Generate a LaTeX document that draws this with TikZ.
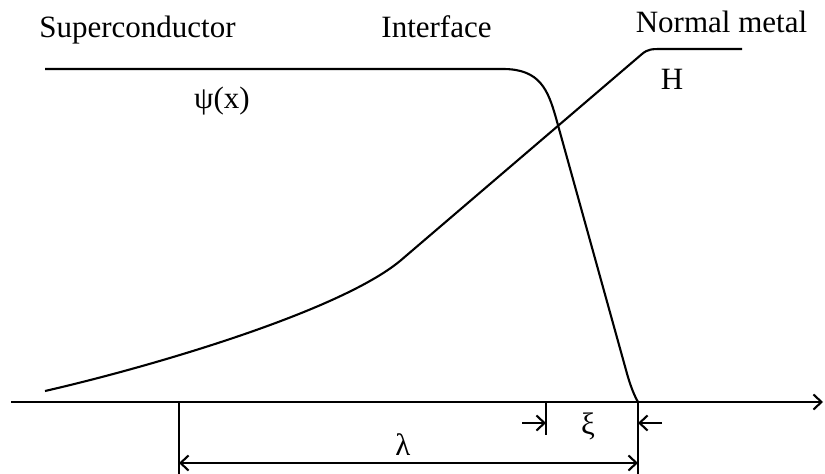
\documentclass[tikz,border=0pt]{standalone}
\usepackage{fontspec}
\setmainfont{Liberation Serif}
\usetikzlibrary{arrows.meta,positioning}

\begin{document}
\begin{tikzpicture}[x=1pt,y=-1pt,>={Straight Barb[length=8pt,width=15pt]},
    line width=2.1pt,
    caption/.style={font=\fontsize{31}{36}\selectfont,anchor=base,inner sep=0pt},
    symbol/.style={font=\fontsize{31}{36}\selectfont,inner sep=0pt}]
    \useasboundingbox (0,0) rectangle (825,474);
    \node[caption] (super) at (137.5,37) {Superconductor};
    \node[caption] (iface) at (436.5,37) {Interface};
    \node[caption] (normal) at (721.5,32) {Normal metal};
    \node[caption] (psi) at (222,108) {ψ(x)};
    \node[caption] (field) at (672,89) {H};
    \node[symbol] (lam) at (403,445) {λ};
    \node[symbol] (xi) at (588,426) {ξ};
    \coordinate (axisL) at (11,402);
    \coordinate (axisR) at (823,402);
    \coordinate (lamL) at (179,402);
    \coordinate (xiL) at (546,402);
    \coordinate (edge) at (638,402);
    \coordinate (lamLB) at (179,474);
    \coordinate (edgeB) at (638,474);
    \coordinate (xiLB) at (546,435);
    \draw[->] (axisL) -- (axisR);
    % order parameter
    \draw (45,69) -- (503,69) .. controls (540,69) and (548,90) .. (556,118)
        -- (626,370) .. controls (630,385) and (634,395) .. (edge);
    % magnetic field
    \draw (45,391) .. controls (150,367) and (338,312) .. (400,261)
        -- (642,54) .. controls (648,49) and (652,49) .. (662,49) -- (742,49);
    % dimensions
    \draw (lamL) -- (lamLB);
    \draw (edge) -- (edgeB);
    \draw (xiL) -- (xiLB);
    \draw[<->] (179,463) -- (638,463);
    \draw[->] (522,423) -- (xiL |- 0,423);
    \draw[->] (662,423) -- (edge |- 0,423);
\end{tikzpicture}
\end{document}
